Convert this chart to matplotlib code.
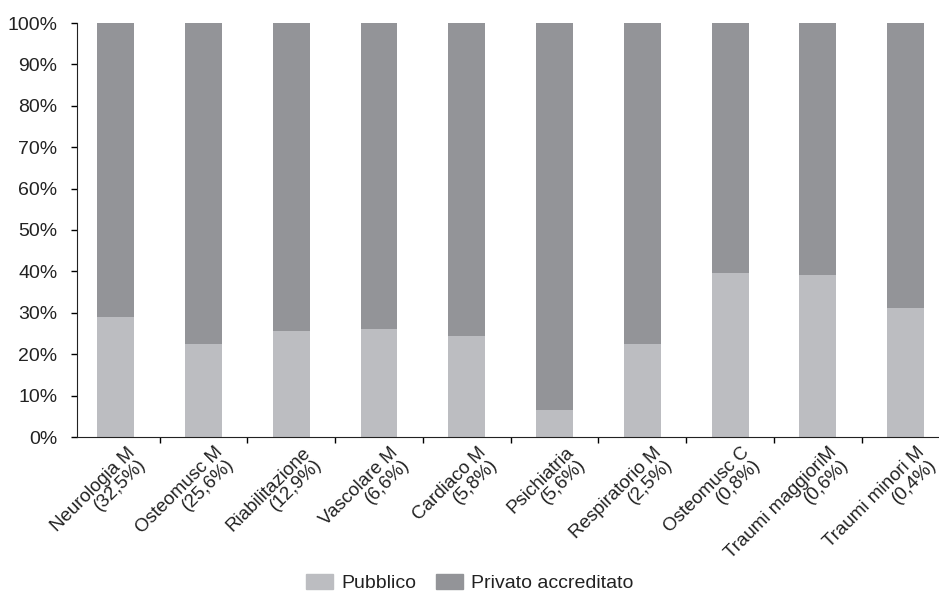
import numpy as np
import matplotlib
matplotlib.use("Agg")
import matplotlib.pyplot as plt
from matplotlib.patches import Patch

plt.rcParams['font.family'] = ['Liberation Sans', 'DejaVu Sans']

categories = ["Neurologia M\n(32,5%)", "Osteomusc M\n(25,6%)", "Riabilitazione\n(12,9%)",
              "Vascolare M\n(6,6%)", "Cardiaco M\n(5,8%)", "Psichiatria\n(5,6%)",
              "Respiratorio M\n(2,5%)", "Osteomusc C\n(0,8%)", "Traumi maggioriM\n(0,6%)",
              "Traumi minori M\n(0,4%)"]
pubblico = [28.9, 22.5, 25.7, 26.1, 24.4, 6.5, 22.5, 39.5, 39.2, 31.2]
privato = [100 - p for p in pubblico]

col_pub = "#bcbdc1"
col_priv = "#939498"

fig = plt.figure(figsize=(9.39, 5.98), dpi=100)
ax = fig.add_axes([77 / 939, 1 - 437 / 598, 1 - 77 / 939, (437 - 23) / 598])

x = np.arange(len(categories))
ax.bar(x, pubblico, width=0.42, color=col_pub, label="Pubblico")
ax.bar(x, privato, width=0.42, bottom=pubblico, color=col_priv, label="Privato accreditato")

ax.set_xlim(-0.44, 9.38)
ax.set_ylim(0, 100)
ax.set_yticks(np.arange(0, 101, 10))
ax.set_yticklabels([f"{v}%" for v in range(0, 101, 10)], fontsize=14, color="#222222")
ax.tick_params(axis='y', direction='out', length=4, width=1, pad=10)

# boundaries between categories carry the ticks, labels sit at bar centres
ax.set_xticks(x[:-1] + 0.5)
ax.set_xticklabels([])
ax.tick_params(axis='x', which='major', direction='out', length=4, width=1)
ax.set_xticks(x + 0.12, minor=True)
ax.set_xticklabels(categories, minor=True, rotation=45, ha='right',
                   rotation_mode='anchor', fontsize=13.5, multialignment='right',
                   linespacing=0.95, color="#222222")
ax.tick_params(axis='x', which='minor', length=0, pad=5)

for s in ['top', 'right']:
    ax.spines[s].set_visible(False)
ax.spines['left'].set_color("#222222")
ax.spines['bottom'].set_color("#222222")

handles = [Patch(color=col_pub, label="Pubblico"), Patch(color=col_priv, label="Privato accreditato")]
fig.legend(handles=handles, loc='lower center', bbox_to_anchor=(0.5, -0.02), ncol=2,
           frameon=False, fontsize=14, handlelength=1.4, handleheight=0.8,
           handletextpad=0.4, columnspacing=1.0, labelcolor="#222222")

fig.savefig("out.png", dpi=100)
